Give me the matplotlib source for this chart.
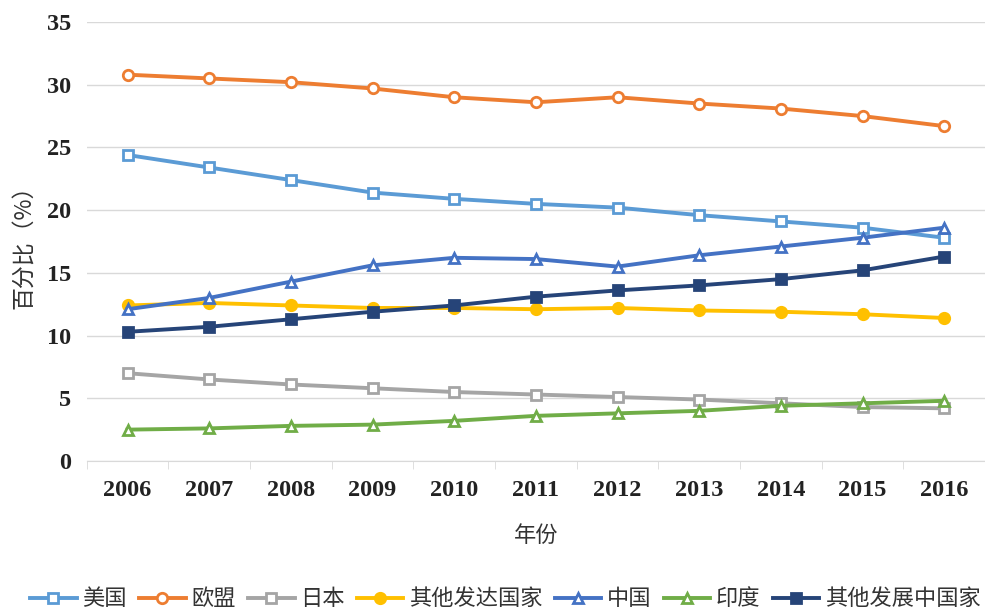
import matplotlib
matplotlib.use("Agg")
import matplotlib.pyplot as plt

years = ["2006", "2007", "2008", "2009", "2010", "2011", "2012", "2013", "2014", "2015", "2016"]
us = [24.4, 23.4, 22.4, 21.4, 20.9, 20.5, 20.2, 19.6, 19.1, 18.6, 17.8]
eu = [30.8, 30.5, 30.2, 29.7, 29.0, 28.6, 29.0, 28.5, 28.1, 27.5, 26.7]
japan = [7.0, 6.5, 6.1, 5.8, 5.5, 5.3, 5.1, 4.9, 4.6, 4.3, 4.2]
other_dev = [12.4, 12.6, 12.4, 12.2, 12.2, 12.1, 12.2, 12.0, 11.9, 11.7, 11.4]
china = [12.1, 13.0, 14.3, 15.6, 16.2, 16.1, 15.5, 16.4, 17.1, 17.8, 18.6]
india = [2.5, 2.6, 2.8, 2.9, 3.2, 3.6, 3.8, 4.0, 4.4, 4.6, 4.8]
other_devg = [10.3, 10.7, 11.3, 11.9, 12.4, 13.1, 13.6, 14.0, 14.5, 15.2, 16.3]
names = ["美国", "欧盟", "日本", "其他发达国家", "中国", "印度", "其他发展中国家"]
yticks = [0, 5, 10, 15, 20, 25, 30, 35]

cjk = ["Noto Sans CJK SC", "DejaVu Sans"]
plt.rcParams['font.family'] = cjk

fig = plt.figure(figsize=(9.85, 6.11), dpi=100)
ax = fig.add_axes([0.088, 0.2455, 0.912, 0.7185])

series = [
    (us, "#5B9BD5", "s", "white"),
    (eu, "#ED7D31", "o", "white"),
    (japan, "#A5A5A5", "s", "white"),
    (other_dev, "#FFC000", "o", "#FFC000"),
    (china, "#4472C4", "^", "white"),
    (india, "#70AD47", "^", "white"),
    (other_devg, "#264478", "s", "#264478"),
]
x = list(range(len(years)))
for (vals, c, m, fc), name in zip(series, names):
    ax.plot(x, vals, color=c, lw=2.8, marker=m, markersize=7.5,
            markerfacecolor=fc, markeredgecolor=c, markeredgewidth=2,
            label=name, zorder=3)

ax.set_xlim(-0.5, len(years) - 0.5)
ax.set_ylim(0, 35)
ax.set_yticks(yticks)
ax.set_xticks(x)
ax.set_xticks([i - 0.5 for i in range(len(years) + 1)], minor=True)
ax.grid(axis='y', color='#D9D9D9', lw=1)
ax.set_axisbelow(True)
for s in ['top', 'right', 'left']:
    ax.spines[s].set_visible(False)
ax.spines['bottom'].set_color('#D9D9D9')
ax.tick_params(axis='x', which='major', length=0, pad=14)
ax.tick_params(axis='x', which='minor', length=6, color='#D9D9D9')
ax.tick_params(axis='y', length=0, pad=11)

serif = {'family': 'Liberation Serif', 'weight': 'bold', 'size': 17.5}
ax.set_xticklabels(years, fontdict=serif, color='#222222')
ax.set_yticklabels([str(v) for v in yticks], fontdict=serif, color='#222222')

ax.set_ylabel("百分比（%）", fontsize=16.5, color='#333333', labelpad=8)
ax.set_xlabel("年份", fontsize=16, color='#333333', labelpad=16)

leg = fig.legend(loc='center', bbox_to_anchor=(0.513, 0.02), ncol=7, frameon=False,
                 fontsize=16, handlelength=2.1, handletextpad=0.25, columnspacing=0.55,
                 borderaxespad=0)
for t in leg.get_texts():
    t.set_color('#333333')

fig.savefig("out.png", dpi=100)
